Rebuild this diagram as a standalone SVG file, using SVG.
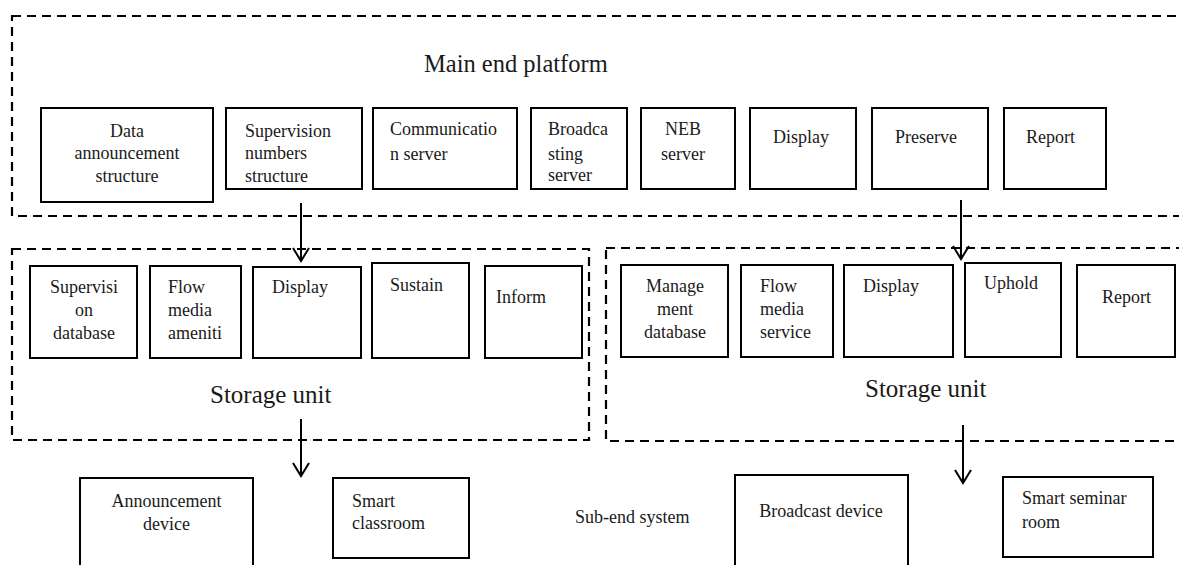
<svg xmlns="http://www.w3.org/2000/svg" width="1179" height="565" viewBox="0 0 1179 565">
  <style>
    .zone { fill: none; stroke: #000; stroke-width: 2.2; stroke-dasharray: 9 6; }
    .box { fill: #fff; stroke: #000; stroke-width: 2; }
    .t { font-family: "Liberation Serif", "Times New Roman", serif; font-size: 18px; fill: #1a1a1a; }
    .c { text-anchor: middle; }
    .big { font-family: "Liberation Serif", "Times New Roman", serif; font-size: 25px; fill: #1a1a1a; }
    .link { fill: none; stroke: #000; stroke-width: 2; marker-end: url(#vhead); }
  </style>
  <defs>
    <marker id="vhead" viewBox="0 0 16 18" markerWidth="16" markerHeight="18" refX="14" refY="9" orient="auto" markerUnits="userSpaceOnUse">
      <path d="M1,1 L14,9 L1,17" fill="none" stroke="#000" stroke-width="2"/>
    </marker>
  </defs>
  <rect width="1179" height="565" fill="#fff"/>

  <!-- dashed groupings -->
  <g id="zones">
    <rect id="main-zone" class="zone" x="12" y="16" width="1190" height="200"/>
    <rect id="storage-left-zone" class="zone" x="12" y="249" width="577" height="191"/>
    <rect id="storage-right-zone" class="zone" x="606" y="248" width="600" height="193"/>
  </g>

  <!-- main end platform -->
  <text class="big" x="424" y="72" style="font-size:24.5px">Main end platform</text>

  <g id="n-data-announcement">
    <rect class="box" x="41" y="108" width="172" height="94"/>
    <text class="t c" x="127" y="137">Data</text>
    <text class="t c" x="127" y="159">announcement</text>
    <text class="t c" x="127" y="182">structure</text>
  </g>
  <g id="n-supervision-numbers">
    <rect class="box" x="226" y="108" width="136" height="81"/>
    <text class="t" x="245" y="137">Supervision</text>
    <text class="t" x="245" y="159">numbers</text>
    <text class="t" x="245" y="182">structure</text>
  </g>
  <g id="n-communication">
    <rect class="box" x="373" y="108" width="144" height="81"/>
    <text class="t" x="390" y="135">Communicatio</text>
    <text class="t" x="390" y="160">n server</text>
  </g>
  <g id="n-broadcasting">
    <rect class="box" x="531" y="108" width="96" height="81"/>
    <text class="t" x="548" y="135">Broadca</text>
    <text class="t" x="548" y="160">sting</text>
    <text class="t" x="548" y="181">server</text>
  </g>
  <g id="n-neb">
    <rect class="box" x="641" y="108" width="94" height="81"/>
    <text class="t c" x="683" y="135">NEB</text>
    <text class="t c" x="683" y="160">server</text>
  </g>
  <g id="n-display-main">
    <rect class="box" x="750" y="108" width="106" height="81"/>
    <text class="t" x="773" y="143">Display</text>
  </g>
  <g id="n-preserve">
    <rect class="box" x="872" y="108" width="116" height="81"/>
    <text class="t" x="895" y="143">Preserve</text>
  </g>
  <g id="n-report-main">
    <rect class="box" x="1004" y="108" width="102" height="81"/>
    <text class="t" x="1026" y="143">Report</text>
  </g>

  <!-- left storage unit -->
  <g id="n-supervision-db">
    <rect class="box" x="30" y="266" width="107" height="92"/>
    <text class="t c" x="84" y="293">Supervisi</text>
    <text class="t c" x="84" y="316">on</text>
    <text class="t c" x="84" y="339">database</text>
  </g>
  <g id="n-flow-amenities">
    <rect class="box" x="150" y="266" width="91" height="92"/>
    <text class="t" x="168" y="293">Flow</text>
    <text class="t" x="168" y="316">media</text>
    <text class="t" x="168" y="339">ameniti</text>
  </g>
  <g id="n-display-left">
    <rect class="box" x="253" y="267" width="108" height="91"/>
    <text class="t" x="272" y="293">Display</text>
  </g>
  <g id="n-sustain">
    <rect class="box" x="372" y="263" width="97" height="95"/>
    <text class="t" x="390" y="291">Sustain</text>
  </g>
  <g id="n-inform">
    <rect class="box" x="485" y="266" width="97" height="92"/>
    <text class="t" x="496" y="303">Inform</text>
  </g>
  <text class="big" x="210" y="403">Storage unit</text>

  <!-- right storage unit -->
  <g id="n-management-db">
    <rect class="box" x="621" y="265" width="107" height="92"/>
    <text class="t c" x="675" y="292">Manage</text>
    <text class="t c" x="675" y="315">ment</text>
    <text class="t c" x="675" y="338">database</text>
  </g>
  <g id="n-flow-service">
    <rect class="box" x="741" y="265" width="92" height="92"/>
    <text class="t" x="760" y="292">Flow</text>
    <text class="t" x="760" y="315">media</text>
    <text class="t" x="760" y="338">service</text>
  </g>
  <g id="n-display-right">
    <rect class="box" x="844" y="265" width="109" height="92"/>
    <text class="t" x="863" y="292">Display</text>
  </g>
  <g id="n-uphold">
    <rect class="box" x="965" y="263" width="96" height="94"/>
    <text class="t" x="984" y="289">Uphold</text>
  </g>
  <g id="n-report-right">
    <rect class="box" x="1077" y="265" width="98" height="92"/>
    <text class="t" x="1102" y="303">Report</text>
  </g>
  <text class="big" x="865" y="397">Storage unit</text>

  <!-- sub-end system -->
  <g id="n-announcement-device">
    <rect class="box" x="80" y="478" width="173" height="100"/>
    <text class="t c" x="166.5" y="507">Announcement</text>
    <text class="t c" x="166.5" y="530">device</text>
  </g>
  <g id="n-smart-classroom">
    <rect class="box" x="333" y="478" width="136" height="80"/>
    <text class="t" x="352" y="507">Smart</text>
    <text class="t" x="352" y="529">classroom</text>
  </g>
  <text class="t" x="575" y="523">Sub-end system</text>
  <g id="n-broadcast-device">
    <rect class="box" x="735" y="475" width="173" height="100"/>
    <text class="t c" x="821" y="517">Broadcast device</text>
  </g>
  <g id="n-smart-seminar">
    <rect class="box" x="1003" y="477" width="150" height="80"/>
    <text class="t" x="1022" y="504">Smart seminar</text>
    <text class="t" x="1022" y="528">room</text>
  </g>

  <!-- connectors -->
  <g id="connectors">
    <line class="link" x1="301" y1="203" x2="301" y2="261"/>
    <line class="link" x1="961" y1="200" x2="961" y2="259"/>
    <line class="link" x1="301" y1="419" x2="301" y2="476"/>
    <line class="link" x1="963" y1="425" x2="963" y2="483"/>
  </g>
</svg>
